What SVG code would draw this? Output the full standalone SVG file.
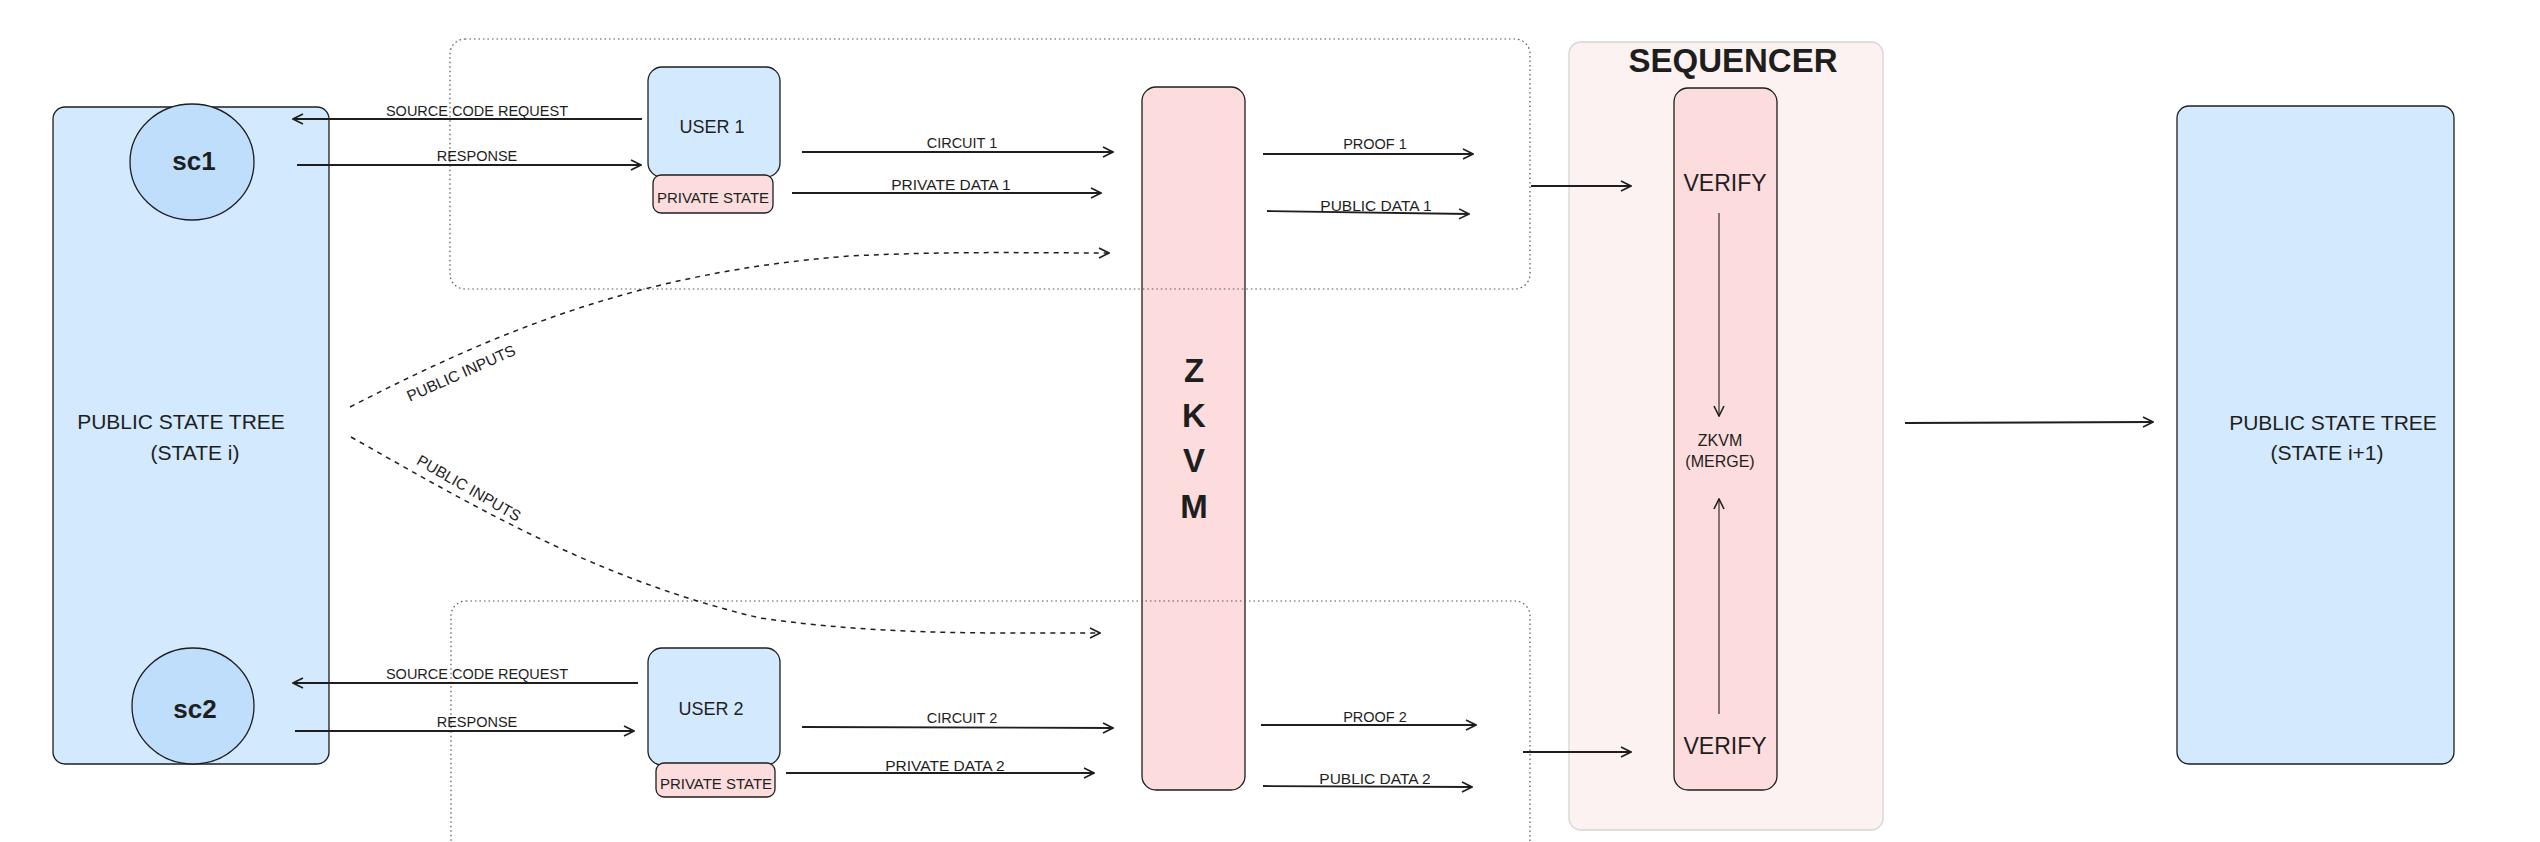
<svg xmlns="http://www.w3.org/2000/svg" width="2540" height="842" viewBox="0 0 2540 842">
<defs>
<style>
text{font-family:"Liberation Sans",Arial,sans-serif;fill:#1e1e1e;text-anchor:middle;dominant-baseline:central}
.lbl{font-size:14.5px}
.big{font-size:21px}
.blue{fill:#d3e9fd;stroke:#1e1e1e;stroke-width:1.3}
.circ{fill:#bfdefb;stroke:#1e1e1e;stroke-width:1.3}
.pink{fill:#fcdcdc;stroke:#1e1e1e;stroke-width:1.3}
.frame{fill:none;stroke:#555;stroke-width:1.2;stroke-dasharray:1.5 3}
.seq{fill:#fdf2f2;stroke:#d4d4d4;stroke-width:1.3}
.arr{fill:none;stroke:#1e1e1e;stroke-width:1.8;marker-end:url(#ah)}
.thin{fill:none;stroke:#1e1e1e;stroke-width:1.1;marker-end:url(#ah)}
.dash{fill:none;stroke:#1e1e1e;stroke-width:1.5;stroke-dasharray:5 5;marker-end:url(#ah)}
</style>
<marker id="ah" viewBox="0 0 12 12" refX="11" refY="6" markerWidth="12" markerHeight="12" markerUnits="userSpaceOnUse" orient="auto">
<path d="M1,1 L11,6 L1,11" fill="none" stroke="#1e1e1e" stroke-width="1.6"/>
</marker>
</defs>
<rect width="2540" height="842" fill="#ffffff"/>

<g id="state-tree-i">
<rect class="blue" x="53" y="107" width="276" height="657" rx="12"/>
<text class="big" x="181" y="421">PUBLIC STATE TREE</text>
<text class="big" x="195" y="452">(STATE i)</text>
</g>
<g id="sc1">
<ellipse class="circ" cx="192" cy="162" rx="62" ry="58"/>
<text x="194" y="161" style="font-size:26px;font-weight:bold">sc1</text>
</g>
<g id="sc2">
<ellipse class="circ" cx="193" cy="706" rx="61" ry="58"/>
<text x="195" y="709" style="font-size:26px;font-weight:bold">sc2</text>
</g>

<g id="zkvm">
<rect class="pink" x="1142" y="87" width="103" height="703" rx="14"/>
<text x="1194" y="370" style="font-size:33px;font-weight:bold">Z</text>
<text x="1194" y="415" style="font-size:33px;font-weight:bold">K</text>
<text x="1194" y="460" style="font-size:33px;font-weight:bold">V</text>
<text x="1194" y="506" style="font-size:33px;font-weight:bold">M</text>
</g>

<g id="user1-frame"><rect class="frame" x="450" y="39" width="1080" height="250" rx="15"/></g>
<g id="user2-frame"><rect class="frame" x="451" y="601" width="1079" height="280" rx="15"/></g>

<g id="user1">
<rect class="blue" x="648" y="67" width="132" height="110" rx="14"/>
<text x="712" y="127" style="font-size:18px">USER 1</text>
</g>
<g id="private-state-1">
<rect class="pink" x="653" y="175" width="120" height="38" rx="8"/>
<text x="713" y="197" style="font-size:15px">PRIVATE STATE</text>
</g>
<g id="user2">
<rect class="blue" x="648" y="648" width="132" height="117" rx="14"/>
<text x="711" y="709" style="font-size:18px">USER 2</text>
</g>
<g id="private-state-2">
<rect class="pink" x="656" y="763" width="119" height="34" rx="8"/>
<text x="716" y="783" style="font-size:15px">PRIVATE STATE</text>
</g>

<g id="sequencer">
<rect class="seq" x="1569" y="42" width="314" height="788" rx="12"/>
<text x="1733" y="60" style="font-size:33px;font-weight:bold">SEQUENCER</text>
</g>
<g id="sequencer-zkvm">
<rect class="pink" x="1674" y="88" width="103" height="702" rx="14"/>
<text x="1720" y="440" style="font-size:16px">ZKVM</text>
<text x="1720" y="461" style="font-size:16px">(MERGE)</text>
</g>
<g id="verify1"><text x="1725" y="183" style="font-size:23px">VERIFY</text></g>
<g id="verify2"><text x="1725" y="746" style="font-size:23px">VERIFY</text></g>

<g id="state-tree-i1">
<rect class="blue" x="2177" y="106" width="277" height="658" rx="12"/>
<text class="big" x="2333" y="422">PUBLIC STATE TREE</text>
<text class="big" x="2327" y="452">(STATE i+1)</text>
</g>

<g id="connectors">
<path class="arr" d="M642,119 L293,119"/>
<path class="arr" d="M297,165 L641,165"/>
<path class="arr" d="M802,152 L1113,152"/>
<path class="arr" d="M792,193 L1101,193"/>
<path class="arr" d="M1263,154 L1473,154"/>
<path class="arr" d="M1267,211 L1469,214"/>
<path class="arr" d="M1531,186 L1631,186"/>
<path class="dash" d="M350,407 C500,330 640,272 850,256 C950,251 1030,253 1109,253"/>
<path class="dash" d="M351,437 C480,510 600,580 760,618 C880,635 980,633 1100,633"/>
<path class="arr" d="M638,683 L293,683"/>
<path class="arr" d="M295,731 L634,731"/>
<path class="arr" d="M802,727 L1113,728"/>
<path class="arr" d="M786,773 L1094,773"/>
<path class="arr" d="M1261,725 L1476,725"/>
<path class="arr" d="M1263,786 L1472,787"/>
<path class="arr" d="M1523,752 L1631,752"/>
<path class="thin" d="M1719,213 L1719,416"/>
<path class="thin" d="M1719,714 L1719,499"/>
<path class="arr" d="M1905,423 L2153,422"/>
<text class="lbl" x="477" y="111">SOURCE CODE REQUEST</text>
<text class="lbl" x="477" y="156">RESPONSE</text>
<text class="lbl" x="962" y="143">CIRCUIT 1</text>
<text class="lbl" x="951" y="184" style="font-size:15.5px">PRIVATE DATA 1</text>
<text class="lbl" x="1375" y="144">PROOF 1</text>
<text class="lbl" x="1376" y="205" style="font-size:15.5px">PUBLIC DATA 1</text>
<text class="lbl" x="461" y="373" transform="rotate(-24 461 373)" style="font-size:15.5px">PUBLIC INPUTS</text>
<text class="lbl" x="469" y="488" transform="rotate(30 469 488)" style="font-size:15.5px">PUBLIC INPUTS</text>
<text class="lbl" x="477" y="674">SOURCE CODE REQUEST</text>
<text class="lbl" x="477" y="722">RESPONSE</text>
<text class="lbl" x="962" y="718">CIRCUIT 2</text>
<text class="lbl" x="945" y="765" style="font-size:15.5px">PRIVATE DATA 2</text>
<text class="lbl" x="1375" y="717">PROOF 2</text>
<text class="lbl" x="1375" y="778" style="font-size:15.5px">PUBLIC DATA 2</text>
</g>
</svg>
